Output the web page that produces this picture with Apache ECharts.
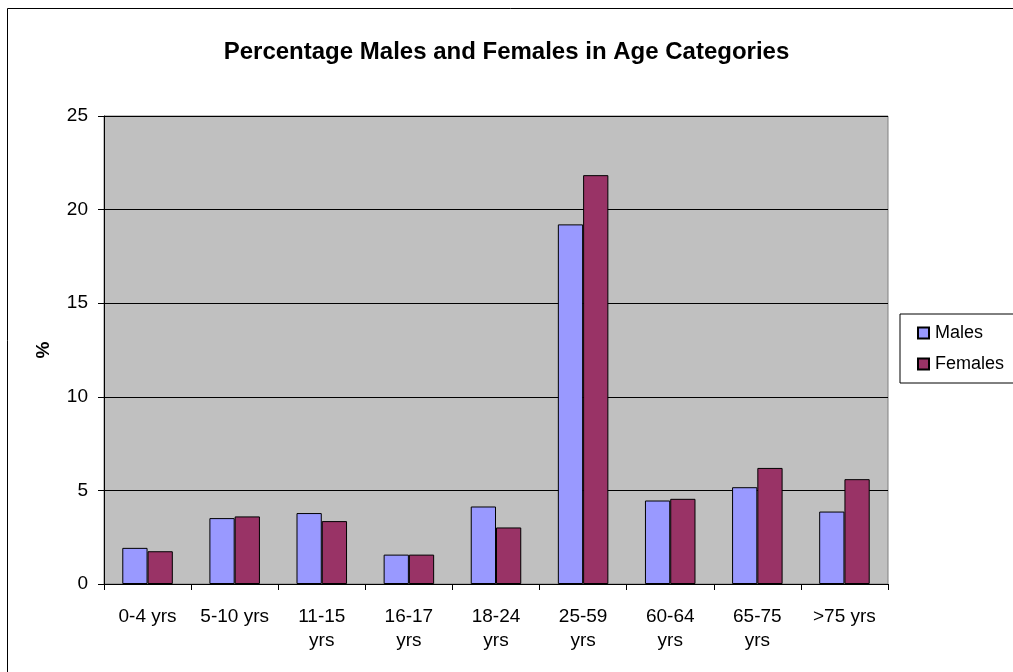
<!DOCTYPE html>
<html>
<head>
<meta charset="utf-8">
<script src="https://cdn.jsdelivr.net/npm/echarts@6/dist/echarts.min.js"></script>
<style>
html,body{margin:0;padding:0;background:#fff;}
#chart{width:1013px;height:672px;}
</style>
</head>
<body>
<div id="chart"></div>
<script>
const categories = ['0-4 yrs', '5-10 yrs', '11-15\nyrs', '16-17\nyrs', '18-24\nyrs', '25-59\nyrs', '60-64\nyrs', '65-75\nyrs', '>75 yrs'];
const males = [1.93, 3.52, 3.79, 1.57, 4.14, 19.21, 4.46, 5.17, 3.87];
const females = [1.75, 3.61, 3.36, 1.57, 3.02, 21.84, 4.55, 6.2, 5.6];
const yTicks = [0, 5, 10, 15, 20, 25];

const FONT = "'Liberation Sans', Arial, sans-serif";
const chart = echarts.init(document.getElementById('chart'), null, {renderer: 'canvas'});
chart.setOption({
  animation: false,
  backgroundColor: '#ffffff',
  textStyle: {fontFamily: FONT},
  title: {
    text: 'Percentage Males and Females in Age Categories',
    left: 'center',
    top: 35,
    textStyle: {fontFamily: FONT, fontSize: 24, fontWeight: 'bold', color: '#000'}
  },
  graphic: [{
    type: 'rect', z: -1,
    shape: {x: 7.5, y: 8.5, width: 1100, height: 700},
    style: {fill: 'none', stroke: '#000', lineWidth: 1}
  }],
  legend: {
    orient: 'vertical',
    left: 900, top: 314,
    padding: [8, 24, 8, 17],
    itemGap: 9,
    itemWidth: 11, itemHeight: 11,
    backgroundColor: '#fff',
    borderColor: '#000', borderWidth: 1,
    icon: 'rect',
    textStyle: {fontFamily: FONT, fontSize: 18, color: '#000', lineHeight: 22, padding: [0,0,0,1]},
    data: ['Males', 'Females']
  },
  grid: {
    left: 104, right: 125, top: 116, bottom: 88,
    show: true, backgroundColor: '#C0C0C0', borderColor: '#808080', borderWidth: 1,
    containLabel: false
  },
  xAxis: {
    type: 'category',
    data: categories,
    axisLine: {lineStyle: {color: '#000', width: 1}},
    axisTick: {show: true, length: 6, lineStyle: {color: '#000'}},
    axisLabel: {interval: 0, margin: 21, fontSize: 19, lineHeight: 24, color: '#000', fontFamily: FONT}
  },
  yAxis: {
    type: 'value',
    min: 0, max: 25, interval: 5,
    name: '%',
    nameLocation: 'middle',
    nameGap: 51,
    nameRotate: 90,
    nameTextStyle: {fontFamily: FONT, fontSize: 19, fontWeight: 'bold', color: '#000'},
    axisLine: {show: true, lineStyle: {color: '#000', width: 1}},
    axisTick: {show: true, length: 6, lineStyle: {color: '#000'}},
    axisLabel: {margin: 16, fontSize: 19, color: '#000', fontFamily: FONT,
      formatter: function (v) { return yTicks.indexOf(v) >= 0 ? String(v) : ''; }},
    splitLine: {show: true, lineStyle: {color: '#000', width: 1}}
  },
  series: [
    {name: 'Males', type: 'bar', data: males, barGap: '0%', barCategoryGap: '42%',
     itemStyle: {color: '#9999FF', borderColor: '#000', borderWidth: 1}},
    {name: 'Females', type: 'bar', data: females, barGap: '0%', barCategoryGap: '42%',
     itemStyle: {color: '#993366', borderColor: '#000', borderWidth: 1}}
  ]
});
</script>
</body>
</html>
